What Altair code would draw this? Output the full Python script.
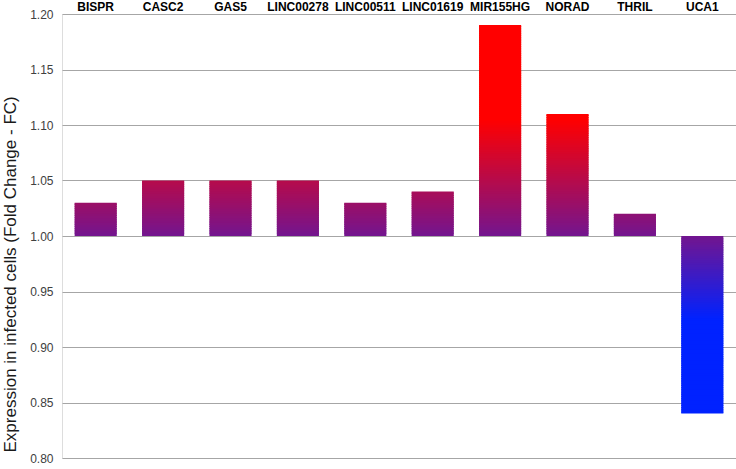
import altair as alt
import pandas as pd

genes = ["BISPR", "CASC2", "GAS5", "LINC00278", "LINC00511", "LINC01619",
         "MIR155HG", "NORAD", "THRIL", "UCA1"]
fold_change = [1.03, 1.05, 1.05, 1.05, 1.03, 1.04, 1.19, 1.11, 1.02, 0.84]
y_ticks = [0.80, 0.85, 0.90, 0.95, 1.00, 1.05, 1.10, 1.15, 1.20]

baseline = 1.0
color_domain = [0.925, 1.0, 1.105]
color_range = ["#0022ff", "#73158f", "#ff0000"]

# split each bar into thin overlapping slices so the colour follows the value axis
step = 0.002
rows = []
for g, v in zip(genes, fold_change):
    n = int(round(abs(v - baseline) / step))
    sgn = 1 if v >= baseline else -1
    for i in range(n):
        a = baseline + sgn * i * step
        b = baseline + sgn * (i + 1) * step
        mid = (a + b) / 2
        b_draw = v if i == n - 1 else b + sgn * step * 0.6
        rows.append({"gene": g, "y0": a, "y1": b_draw, "mid": mid, "k": i})
df = pd.DataFrame(rows)

cscale = alt.Scale(domain=color_domain, range=color_range, clamp=True, interpolate="rgb")

chart = alt.Chart(df).mark_bar(strokeWidth=0).encode(
    x=alt.X("gene:N", sort=genes, title=None,
            scale=alt.Scale(paddingInner=0.375, paddingOuter=0.1875),
            axis=alt.Axis(orient="top", labelAngle=0, domain=False, ticks=False,
                          labelPadding=1, labelFontWeight="bold", labelColor="#000000",
                          labelFontSize=12, labelFont="Liberation Sans")),
    y=alt.Y("y0:Q", scale=alt.Scale(domain=[0.8, 1.2], nice=False, zero=False),
            axis=alt.Axis(values=y_ticks, format=".2f", grid=True, gridColor="#a6a6a6",
                          gridWidth=1, domain=False, ticks=False, labelPadding=9,
                          labelFont="Liberation Sans", labelFontSize=12,
                          labelColor="#404040",
                          title="Expression in infected cells (Fold Change - FC)",
                          titleFont="Liberation Sans", titleFontSize=17,
                          titleFontWeight="normal", titleColor="#1a1a1a",
                          titleAngle=-90, titleAlign="left", titleBaseline="middle",
                          titleX=-52, titleY=438)),
    y2="y1:Q",
    order=alt.Order("k:Q"),
    color=alt.Color("mid:Q", scale=cscale, legend=None),
).properties(
    width=674, height=444,
    autosize=alt.AutoSizeParams(type="none"),
    padding={"left": 62, "top": 14, "right": 0, "bottom": 11},
).configure_view(stroke=None).configure(background="white")

chart.save("out.html", embed_options={"renderer": "svg", "actions": False})
